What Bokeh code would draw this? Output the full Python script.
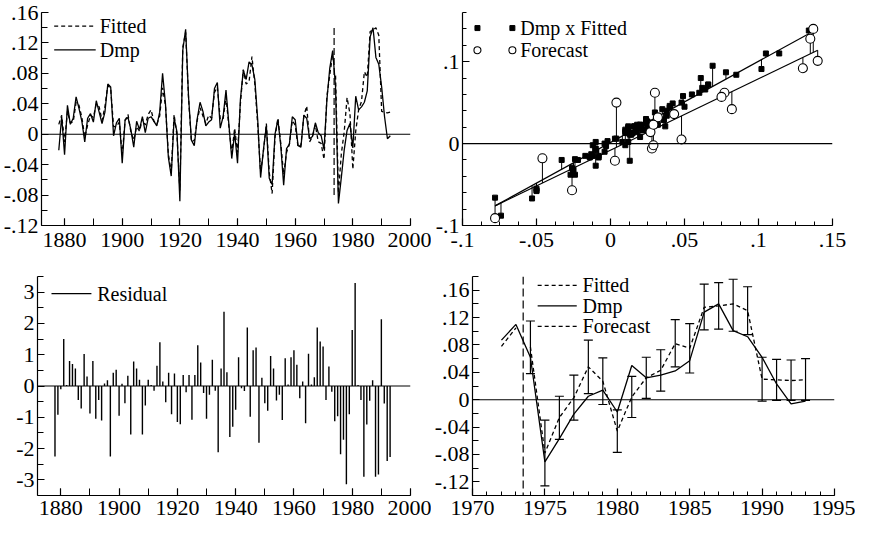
import numpy as np
from bokeh.plotting import figure
from bokeh.layouts import column, row
from bokeh.models import Range1d, FixedTicker, CustomJSTickFormatter, Span
from bokeh.core.properties import value
from bokeh.embed import file_html
from bokeh.resources import INLINE

FONT = "Liberation Serif"
TICK_FS = "22px"
LEG_FS = "20px"

# ---------------- data ----------------
years = list(range(1878, 1994))
dmp = [-0.021, 0.023, -0.027, 0.038, 0.013, 0.021, 0.049, 0.034, 0.017, -0.010,
       0.021, 0.027, 0.016, 0.044, 0.029, 0.014, 0.029, 0.066, 0.062, -0.002,
       0.015, 0.021, -0.038, 0.019, 0.022, 0.006, -0.017, 0.017, 0.006, 0.023,
       0.002, 0.021, 0.023, 0.017, 0.011, 0.029, 0.080, 0.040, -0.030, -0.055,
       0.021, 0.003, -0.088, 0.110, 0.138, 0.050, -0.008, -0.015, 0.020, 0.042,
       0.030, 0.011, 0.016, 0.019, 0.060, 0.068, 0.008, 0.023, 0.058, 0.013,
       -0.032, 0.002, -0.038, 0.046, 0.084, 0.072, 0.095, 0.091, 0.072, 0.019,
       -0.057, -0.020, 0.011, -0.058, -0.066, 0.000, 0.019, -0.015, -0.067, -0.019,
       -0.013, 0.023, 0.019, -0.015, -0.017, 0.025, 0.021, -0.006, -0.003, 0.015,
       0.002, -0.002, -0.020, 0.045, 0.087, 0.110, 0.062, -0.091, -0.057, -0.021,
       0.005, 0.014, -0.018, 0.050, 0.032, 0.036, 0.042, 0.057, 0.128, 0.140,
       0.101, 0.092, 0.062, 0.023, -0.006, -0.002]

fit_years = list(range(1878, 1974))
fitted = [0.013, 0.025, -0.010, 0.030, 0.015, 0.016, 0.042, 0.038, 0.022, -0.004,
          0.012, 0.025, 0.022, 0.040, 0.036, 0.018, 0.036, 0.064, 0.060, 0.010,
          0.010, 0.016, -0.027, 0.018, 0.026, 0.003, -0.008, 0.010, 0.004, 0.020,
          0.012, 0.026, 0.032, 0.017, 0.013, 0.024, 0.061, 0.038, -0.026, -0.050,
          0.026, -0.002, -0.074, 0.114, 0.134, 0.048, -0.010, -0.008, 0.018, 0.035,
          0.024, 0.014, 0.025, 0.021, 0.055, 0.062, 0.020, 0.020, 0.049, 0.010,
          -0.025, 0.008, -0.024, 0.040, 0.085, 0.066, 0.069, 0.102, 0.066, 0.012,
          -0.050, -0.022, 0.014, -0.050, -0.078, -0.004, 0.021, -0.012, -0.053, -0.024,
          -0.013, 0.018, 0.012, -0.017, -0.014, 0.024, 0.037, -0.010, -0.003, 0.012,
          -0.010, -0.012, -0.033, 0.050, 0.078, 0.105]

fc_years = list(range(1974, 1994))
forecast = [0.077, -0.078, -0.026, 0.003, 0.048, 0.027, -0.046, 0.004, 0.032, 0.043,
            0.082, 0.075, 0.135, 0.137, 0.140, 0.130, 0.030, 0.029, 0.028, 0.029]
fc_hi = [0.115, -0.030, 0.005, 0.036, 0.087, 0.061, -0.015, 0.034, 0.062, 0.073,
         0.117, 0.111, 0.169, 0.171, 0.176, 0.165, 0.062, 0.059, 0.058, 0.060]
fc_lo = [0.038, -0.126, -0.058, -0.030, 0.009, -0.007, -0.077, -0.026, 0.002, 0.0125,
         0.048, 0.039, 0.102, 0.103, 0.100, 0.095, -0.002, -0.001, -0.001, -0.001]

residual = [-2.25, -0.92, -0.10, 1.50, 0.03, 0.80, 0.70, 0.56, -0.45, -0.72,
            1.02, 0.30, -0.88, 0.80, -1.05, -0.45, -1.10, 0.08, 0.18, -2.25,
            0.42, 0.52, -0.95, 0.07, -0.55, 0.33, -1.55, 0.78, 0.56, 0.20,
            -1.55, -0.62, 0.20, 0.03, -0.15, 0.65, 1.40, 0.14, -0.52, 0.42,
            -0.90, 0.40, -1.15, -1.22, 0.35, -0.20, 0.35, -1.08, 0.35, 1.30,
            0.75, -0.22, -1.05, -0.28, 0.84, -0.15, -2.12, 0.56, 2.37, 0.44,
            -1.63, -1.30, -0.76, 0.92, -0.07, -0.16, 1.87, -0.98, 1.14, 1.23,
            -1.81, 0.26, -0.55, -0.79, 0.96, 0.56, -0.46, -0.28, -1.09, 0.89,
            0.05, 0.92, 1.14, 0.68, -0.39, 0.14, -1.19, 1.03, 0.05, 0.28,
            1.87, 1.42, 1.26, -0.45, 0.62, -0.18, -1.13, -0.97, -2.18, -1.72,
            -3.14, -0.90, 1.79, 3.29, 0.03, -0.45, -2.90, -1.23, -0.47, 0.18,
            -2.90, -2.83, 2.13, -0.56, -2.40, -2.27]

# regression lines in the cross-plot (intercept, slope)
insample_line = (0.0013, 0.9915)
forecast_line = (-0.0081, 0.8715)
split_year = 1973.5

FMT = """
const s = (+tick.toFixed(4)).toString();
return s.replace("0.", ".");
"""


def ticks(a, b, step):
    n = int(round((b - a) / step))
    return [round(a + i * step, 5) for i in range(n + 1)]


def make_fig(w, h, xr, yr, left, right, top, bottom, xt, xm, yt, ym,
             x_minor_len=4, y_minor_len=4, x_standoff=7):
    p = figure(width=w, height=h, x_range=Range1d(*xr), y_range=Range1d(*yr),
               output_backend="svg", toolbar_location=None,
               min_border_left=left, min_border_right=right,
               min_border_top=top, min_border_bottom=bottom)
    p.outline_line_color = None
    p.xgrid.visible = False
    p.ygrid.visible = False
    p.background_fill_color = "white"
    for ax in (p.xaxis[0], p.yaxis[0]):
        ax.axis_line_color = "black"
        ax.axis_line_width = 1.2
        ax.major_tick_line_color = "black"
        ax.minor_tick_line_color = "black"
        ax.major_tick_line_width = 1.2
        ax.minor_tick_line_width = 1.0
        ax.major_tick_in = 7
        ax.major_tick_out = 0
        ax.minor_tick_out = 0
        ax.major_label_text_font = FONT
        ax.major_label_text_font_size = TICK_FS
        ax.major_label_text_color = "black"
        ax.formatter = CustomJSTickFormatter(code=FMT)
    p.xaxis[0].minor_tick_in = x_minor_len
    p.yaxis[0].minor_tick_in = y_minor_len
    p.xaxis[0].ticker = FixedTicker(ticks=xt, minor_ticks=xm)
    p.yaxis[0].ticker = FixedTicker(ticks=yt, minor_ticks=ym)
    p.yaxis[0].major_label_standoff = 3
    p.xaxis[0].major_label_standoff = x_standoff
    p.add_layout(Span(location=0, dimension="width", line_color="black", line_width=1.1))
    return p


def legend_text(p, x, y, txt):
    p.text(x=[x], y=[y], text=[txt], text_font=value(FONT), text_font_size=LEG_FS,
           text_baseline="middle", text_align="left", text_color="black")


LW = 1.3
DASH = "4 3"

# ---------------- panel 1: Dmp and Fitted ----------------
p1 = make_fig(431, 260, (1872, 2000), (-0.12, 0.16), 37, 21, 12, 35,
              ticks(1880, 2000, 20), ticks(1880, 2000, 10),
              ticks(-0.12, 0.16, 0.04), ticks(-0.12, 0.16, 0.02),
              x_minor_len=7, y_minor_len=6)
p1.line(fit_years, fitted, line_color="black", line_width=LW, line_dash=DASH)
p1.line(fc_years, forecast, line_color="black", line_width=LW, line_dash=DASH)
p1.line(years, dmp, line_color="black", line_width=LW)
p1.segment(x0=[split_year], y0=[-0.08], x1=[split_year], y1=[0.14],
           line_color="black", line_width=1.2, line_dash="7 3")
p1.line([1876.4, 1890.8], [0.142, 0.142], line_color="black", line_width=LW, line_dash=DASH)
p1.line([1876.4, 1890.8], [0.111, 0.111], line_color="black", line_width=LW)
legend_text(p1, 1892.2, 0.142, "Fitted")
legend_text(p1, 1892.2, 0.111, "Dmp")

# ---------------- panel 2: cross plot ----------------
p2 = make_fig(424, 260, (-0.1, 0.15), (-0.1, 0.16), 31, 23, 12, 35,
              ticks(-0.1, 0.15, 0.05), ticks(-0.1, 0.15, 0.0125),
              [-0.1, 0.0, 0.1], ticks(-0.1, 0.16, 0.02))
sq_x = np.array(fitted)
sq_y = np.array(dmp[:len(fitted)])
ci_x = np.array(forecast)
ci_y = np.array(dmp[len(fitted):])
a1, b1 = insample_line
a2, b2 = forecast_line
p2.segment(x0=sq_x, y0=sq_y, x1=sq_x, y1=a1 + b1 * sq_x, line_color="black", line_width=1)
p2.segment(x0=ci_x, y0=ci_y, x1=ci_x, y1=a2 + b2 * ci_x, line_color="black", line_width=1)
lx1 = np.array([sq_x.min(), sq_x.max()])
lx2 = np.array([ci_x.min(), ci_x.max()])
p2.line(lx1, a1 + b1 * lx1, line_color="black", line_width=1.2)
p2.line(lx2, a2 + b2 * lx2, line_color="black", line_width=1.2)
p2.scatter(sq_x, sq_y, marker="square", size=5, fill_color="black", line_color="black")
p2.scatter(ci_x, ci_y, marker="circle", size=9, fill_color="white", line_color="black", line_width=1.1)
p2.scatter([-0.0899, -0.0663], [0.141, 0.141], marker="square", size=5,
           fill_color="black", line_color="black")
p2.scatter([-0.0899, -0.0663], [0.114, 0.114], marker="circle", size=7,
           fill_color="white", line_color="black", line_width=1.1)
legend_text(p2, -0.0610, 0.141, "Dmp x Fitted")
legend_text(p2, -0.0610, 0.114, "Forecast")

# ---------------- panel 3: residuals ----------------
p3 = make_fig(431, 263, (1872, 2000), (-3.5, 3.5), 37, 21, 15, 28,
              ticks(1880, 2000, 20), ticks(1880, 2000, 10),
              ticks(-3, 3, 1), ticks(-3.5, 3.5, 0.5),
              x_minor_len=7, y_minor_len=6, x_standoff=5)
p3.segment(x0=years, y0=[0] * len(years), x1=years, y1=residual,
           line_color="black", line_width=1.4)
p3.line([1876.8, 1890.5], [2.95, 2.95], line_color="black", line_width=LW)
legend_text(p3, 1892.5, 2.95, "Residual")

# ---------------- panel 4: forecasts 1972-1993 ----------------
p4 = make_fig(424, 263, (1970, 1995), (-0.14, 0.18), 31, 21, 16, 28,
              ticks(1970, 1995, 5), ticks(1970, 1995, 1),
              ticks(-0.12, 0.16, 0.04), ticks(-0.14, 0.18, 0.02),
              x_minor_len=4, y_minor_len=6, x_standoff=5)
p4.add_layout(Span(location=split_year, dimension="height", line_color="black",
                   line_width=1.2, line_dash="8 4"))
f_mask = [i for i, y in enumerate(fit_years) if y >= 1972]
d_mask = [i for i, y in enumerate(years) if y >= 1972]
p4.line([fit_years[i] for i in f_mask], [fitted[i] for i in f_mask],
        line_color="black", line_width=LW, line_dash=DASH)
p4.line([years[i] for i in d_mask], [dmp[i] for i in d_mask], line_color="black", line_width=LW)
p4.line(fc_years, forecast, line_color="black", line_width=LW, line_dash=DASH)
p4.segment(x0=fc_years, y0=fc_lo, x1=fc_years, y1=fc_hi, line_color="black", line_width=1.2)
p4.scatter(fc_years, fc_lo, marker="dash", size=9, line_color="black", line_width=1.2)
p4.scatter(fc_years, fc_hi, marker="dash", size=9, line_color="black", line_width=1.2)
p4.line([1974.5, 1977.2], [0.167, 0.167], line_color="black", line_width=LW, line_dash=DASH)
p4.line([1974.5, 1977.2], [0.137, 0.137], line_color="black", line_width=LW)
p4.line([1974.5, 1977.2], [0.107, 0.107], line_color="black", line_width=LW, line_dash=DASH)
legend_text(p4, 1977.6, 0.167, "Fitted")
legend_text(p4, 1977.6, 0.137, "Dmp")
legend_text(p4, 1977.6, 0.107, "Forecast")

layout = column(row(p1, p2), row(p3, p4))
open("out.html", "w").write(file_html(layout, INLINE))
